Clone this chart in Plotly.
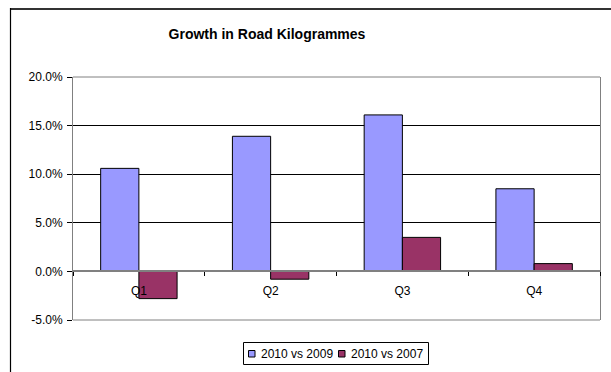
import plotly.graph_objects as go

# Quarterly growth in road kilogrammes (percent)
quarters = ["Q1", "Q2", "Q3", "Q4"]
growth_vs_2009 = [10.6, 13.9, 16.1, 8.5]
growth_vs_2007 = [-2.8, -0.8, 3.5, 0.8]
series_names = ["2010 vs 2009", "2010 vs 2007"]
series_colors = ["#9999FF", "#993366"]
y_ticks = [-5, 0, 5, 10, 15, 20]
y_tick_labels = ["-5.0%", "0.0%", "5.0%", "10.0%", "15.0%", "20.0%"]

W, H = 611, 372
L, R, T, B = 73, 11, 77, 52
plot_w = W - L - R
plot_h = H - T - B
y_min, y_max = -5, 20


def px_x(px):
    return (px - L) / plot_w


def px_y(py):
    return (H - B - py) / plot_h


font = "Liberation Sans, Arial, sans-serif"

fig = go.Figure()
for name, vals, col in zip(series_names, [growth_vs_2009, growth_vs_2007], series_colors):
    fig.add_trace(go.Bar(
        x=quarters, y=vals, name=name, showlegend=False,
        marker=dict(color=col, line=dict(color="black", width=1)),
    ))

zero_pos = (0 - y_min) / (y_max - y_min)

fig.update_layout(
    width=W, height=H,
    margin=dict(l=L, r=R, t=T, b=B),
    paper_bgcolor="white", plot_bgcolor="white",
    barmode="group", bargap=0.42, bargroupgap=0,
    font=dict(family=font, size=12, color="black"),
    title=dict(
        text="<b>Growth in Road Kilogrammes</b>",
        x=px_x(267), xref="paper", xanchor="center",
        y=1 - 34 / H, yref="container", yanchor="middle",
        font=dict(family=font, size=14, color="black"),
    ),
    xaxis=dict(
        anchor="free", position=zero_pos,
        showline=True, linecolor="#808080", linewidth=1.5,
        ticks="outside", tickson="boundaries", ticklen=4,
        tickcolor="black", tickwidth=1,
        ticklabelstandoff=8,
        showgrid=False, zeroline=False,
        tickfont=dict(size=12),
    ),
    yaxis=dict(
        range=[y_min, y_max],
        tickvals=y_ticks, ticktext=y_tick_labels,
        showgrid=True, gridcolor="black", gridwidth=1,
        zeroline=False,
        showline=True, linecolor="#808080", linewidth=1, mirror=True,
        ticks="outside", ticklen=5, tickcolor="black",
        ticklabelstandoff=2,
        tickfont=dict(size=12),
    ),
    showlegend=False,
)

# plot-area top and bottom edges
for yy in (0, 1):
    fig.add_shape(type="line", xref="paper", yref="paper",
                  x0=0, x1=1, y0=yy, y1=yy,
                  line=dict(color="#808080", width=1))

# outer chart frame (top and left edges)
fig.add_shape(type="line", xref="paper", yref="paper",
              x0=px_x(10), x1=px_x(W + 5), y0=px_y(9), y1=px_y(9),
              line=dict(color="#333333", width=2))
fig.add_shape(type="line", xref="paper", yref="paper",
              x0=px_x(10.5), x1=px_x(10.5), y0=px_y(8), y1=px_y(H + 5),
              line=dict(color="black", width=1.2))

# compact boxed legend below the plot area
fig.add_shape(type="rect", xref="paper", yref="paper",
              x0=px_x(243.5), x1=px_x(428.5), y0=px_y(342.5), y1=px_y(364.5),
              line=dict(color="black", width=1), fillcolor="white")
swatch_x = [248.5, 338.5]
text_x = [258.5, 349]
for name, col, sx, tx in zip(series_names, series_colors, swatch_x, text_x):
    fig.add_shape(type="rect", xref="paper", yref="paper",
                  x0=px_x(sx), x1=px_x(sx + 6.5), y0=px_y(350.5), y1=px_y(357),
                  line=dict(color="black", width=1), fillcolor=col)
    fig.add_annotation(xref="paper", yref="paper", x=px_x(tx), y=px_y(353.5),
                       xanchor="left", yanchor="middle", showarrow=False,
                       text=name, font=dict(family=font, size=12, color="black"))

fig.write_html("out.html")
